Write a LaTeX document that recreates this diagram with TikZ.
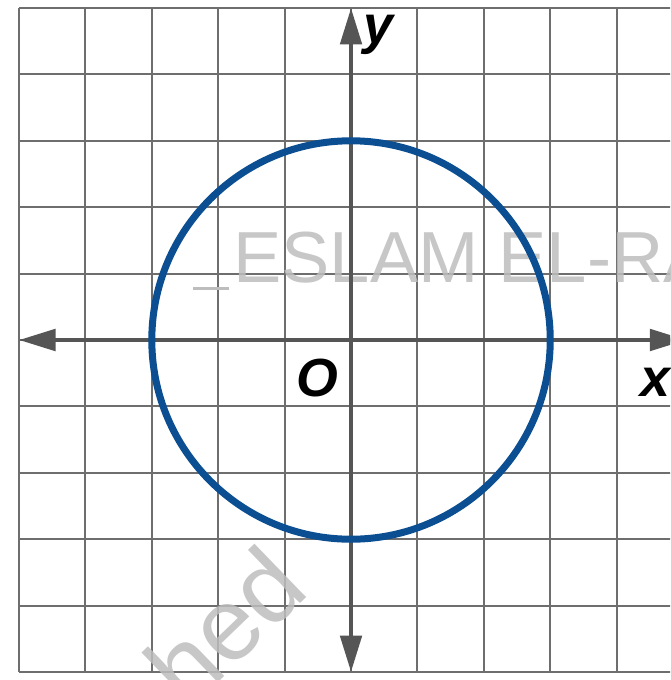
\documentclass[tikz,border=0pt]{standalone}
\usepackage{fontspec}
\setmainfont{Liberation Sans}
\usetikzlibrary{arrows.meta}
\definecolor{gridgray}{HTML}{6E6E6E}
\definecolor{axisgray}{HTML}{555555}
\definecolor{circblue}{HTML}{0B4F92}
\definecolor{wmgray}{HTML}{BDBDBD}
\tikzset{
  gridline/.style={draw=gridgray, line width=0.8pt},
  axisline/.style={draw=axisgray, line width=1.9pt,
    {Triangle[length=0.55cm,width=0.32cm]}-{Triangle[length=0.55cm,width=0.32cm]}},
  curve/.style={draw=circblue, line width=3pt},
  axlabel/.style={font=\fontsize{23}{23}\selectfont\bfseries\itshape, text=black, inner sep=0pt},
  watermark/.style={font=\fontsize{31}{31}\selectfont, text=wmgray, inner sep=0pt, opacity=0.85}
}
\begin{document}
\begin{tikzpicture}
\useasboundingbox (-5.286,-5.12) rectangle (4.804,5.12);
\clip (-5.286,-5.12) rectangle (4.804,5.12);
% grid
\foreach \x in {-5,...,5} \draw[gridline] (\x,-5) -- (\x,5);
\foreach \y in {-5,...,5} \draw[gridline] (-5,\y) -- (5.2,\y);
% watermark
\node[watermark, anchor=base west] (wm1) at (-1.78,0.87) {ESLAM EL-RA};
\draw[draw=wmgray, line width=1.2pt] (-2.38,0.78) -- (-1.83,0.78);
\node[watermark, rotate=44, anchor=base west, font=\fontsize{44}{44}\selectfont] (wm2) at (-2.45,-5.6) {hed};
% axes
\coordinate (xl) at (-5,0);
\coordinate (xr) at (5.05,0);
\coordinate (yb) at (0,-5);
\coordinate (yt) at (0,5);
\draw[axisline] (xl) -- (xr);
\draw[axisline] (yb) -- (yt);
% circle
\node[draw=none, circle, minimum size=6cm, inner sep=0pt] (c) at (0,0) {};
\draw[curve] (0,0) circle (3);
% labels
\node[axlabel] (ly) at (0.41,4.6) {y};
\node[axlabel] (lx) at (4.58,-0.63) {x};
\node[axlabel] (lo) at (-0.5,-0.57) {O};
\end{tikzpicture}
\end{document}
